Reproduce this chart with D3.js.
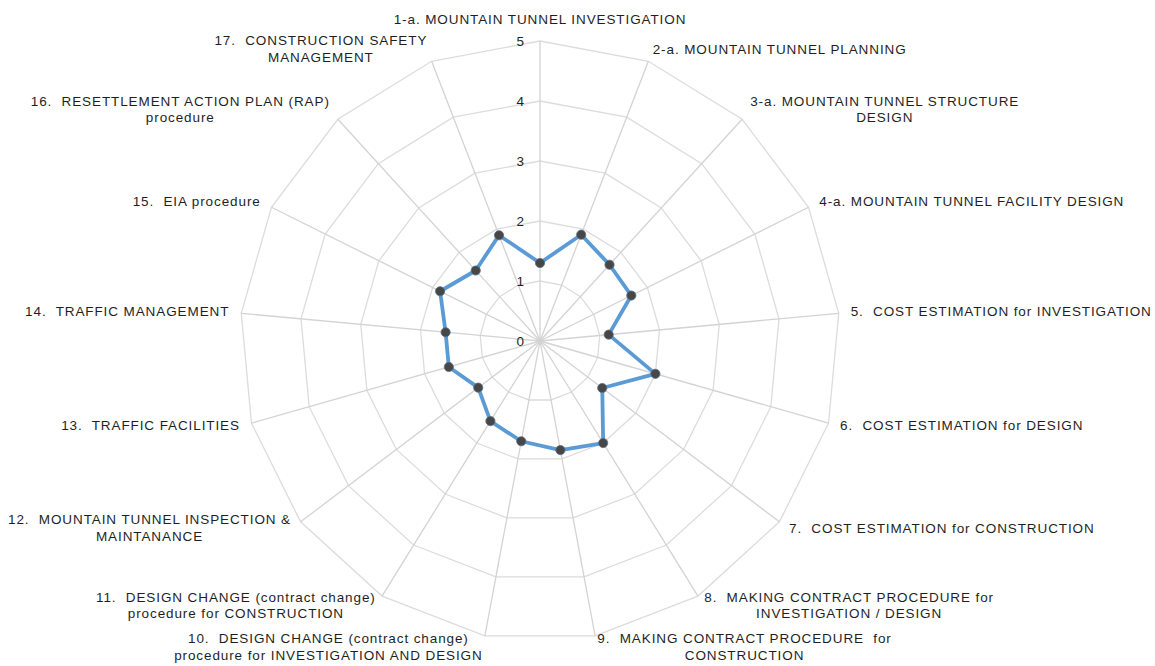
<!DOCTYPE html>
<html>
<head>
<meta charset="utf-8">
<script src="https://cdn.jsdelivr.net/npm/d3@7"></script>
<style>
  html, body { margin: 0; padding: 0; background: #fff; }
  svg text { font-family: "Liberation Sans", Arial, sans-serif; fill: #1f1f1f; white-space: pre; }
</style>
</head>
<body>
<svg id="chart" width="1155" height="666"></svg>
<script>
// axis labels (one entry per spoke, lines split with \n)
const categories = [
  "1-a. MOUNTAIN TUNNEL INVESTIGATION",
  "2-a. MOUNTAIN TUNNEL PLANNING",
  "3-a. MOUNTAIN TUNNEL STRUCTURE\nDESIGN",
  "4-a. MOUNTAIN TUNNEL FACILITY DESIGN",
  "5.  COST ESTIMATION for INVESTIGATION",
  "6.  COST ESTIMATION for DESIGN",
  "7.  COST ESTIMATION for CONSTRUCTION",
  "8.  MAKING CONTRACT PROCEDURE for\nINVESTIGATION / DESIGN",
  "9.  MAKING CONTRACT PROCEDURE  for\nCONSTRUCTION",
  "10.  DESIGN CHANGE (contract change)\nprocedure for INVESTIGATION AND DESIGN",
  "11.  DESIGN CHANGE (contract change)\nprocedure for CONSTRUCTION",
  "12.  MOUNTAIN TUNNEL INSPECTION &\nMAINTANANCE",
  "13.  TRAFFIC FACILITIES",
  "14.  TRAFFIC MANAGEMENT",
  "15.  EIA procedure",
  "16.  RESETTLEMENT ACTION PLAN (RAP)\nprocedure",
  "17.  CONSTRUCTION SAFETY\nMANAGEMENT"
];
const values = [1.3, 1.9, 1.72, 1.7, 1.15, 2.0, 1.3, 2.0, 1.85, 1.7, 1.57, 1.29, 1.58, 1.58, 1.86, 1.59, 1.89];
const ticks = [0, 1, 2, 3, 4, 5];

const svg = d3.select("#chart");
const cx = 540, cy = 341, R = 300;
const n = categories.length;

const r = d3.scaleLinear().domain([0, 5]).range([0, R]);
const ang = d3.scaleLinear().domain([0, n]).range([0, 2 * Math.PI]);

const pt = (i, v) => [cx + r(v) * Math.sin(ang(i)), cy - r(v) * Math.cos(ang(i))];

const g = svg.append("g");

// rings
const ring = d3.line().curve(d3.curveLinearClosed);
g.selectAll("path.ring")
  .data(ticks.filter(t => t > 0))
  .enter().append("path")
  .attr("class", "ring")
  .attr("d", t => ring(d3.range(n).map(i => pt(i, t))))
  .attr("fill", "none")
  .attr("stroke", "#dcdcdc")
  .attr("stroke-width", 1.3);

// spokes
g.selectAll("line.spoke")
  .data(d3.range(n))
  .enter().append("line")
  .attr("class", "spoke")
  .attr("x1", cx).attr("y1", cy)
  .attr("x2", i => pt(i, 5)[0])
  .attr("y2", i => pt(i, 5)[1])
  .attr("stroke", "#d3d3d3")
  .attr("stroke-width", 1.3);

// tick labels
g.selectAll("text.tick")
  .data(ticks)
  .enter().append("text")
  .attr("class", "tick")
  .attr("x", cx - 16)
  .attr("y", t => cy - r(t))
  .attr("dy", "0.35em")
  .attr("text-anchor", "end")
  .attr("font-size", 13.5)
  .text(t => t);

// series
g.append("path")
  .attr("d", ring(values.map((v, i) => pt(i, v))))
  .attr("fill", "none")
  .attr("stroke", "#5b9bd5")
  .attr("stroke-width", 3.8)
  .attr("stroke-linejoin", "round");

g.selectAll("circle.dot")
  .data(values)
  .enter().append("circle")
  .attr("class", "dot")
  .attr("cx", (v, i) => pt(i, v)[0])
  .attr("cy", (v, i) => pt(i, v)[1])
  .attr("r", 4.6)
  .attr("fill", "#474747")
  .attr("stroke", "#5a6f86")
  .attr("stroke-width", 0.8);

// category labels, placed outside each spoke end
const lineH = 16.5;
categories.forEach((c, i) => {
  const lines = c.split("\n");
  const a = ang(i), s = Math.sin(a), co = Math.cos(a);
  const ax = cx + (R + 12) * s, ay = cy - (R + 12) * co;

  const t = g.append("text")
    .attr("font-size", 13.5)
    .attr("letter-spacing", 0.9)
    .attr("text-anchor", "middle");
  lines.forEach((l, k) => t.append("tspan").attr("x", 0).attr("y", k * lineH).text(l));

  const w = d3.max(t.selectAll("tspan").nodes(), nd => nd.getComputedTextLength());
  const h = lines.length * lineH;

  let bx;
  if (s > 0.15) bx = ax + w / 2;
  else if (s < -0.15) bx = ax - w / 2;
  else bx = ax;

  let by;
  if (Math.abs(s) <= 0.15 && co > 0) by = ay - h / 2;
  else by = ay;

  // baseline of first line so the block is centred on by
  t.attr("transform", `translate(${bx},${by - h / 2 + lineH * 0.72})`);
});
</script>
</body>
</html>
